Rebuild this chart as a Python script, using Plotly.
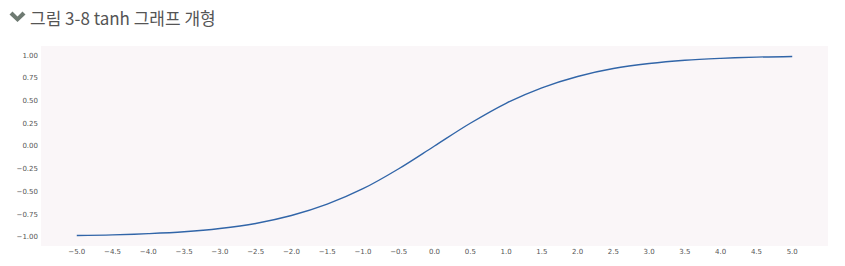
import plotly.graph_objects as go

# values (tanh-shaped curve)
x_vals = [-5.0, -4.5, -4.0, -3.5, -3.0, -2.5, -2.0, -1.5, -1.0, -0.5,
          0.0, 0.5, 1.0, 1.5, 2.0, 2.5, 3.0, 3.5, 4.0, 4.5, 5.0]
y_vals = [-0.985, -0.978, -0.964, -0.943, -0.907, -0.852, -0.765, -0.640, -0.470, -0.250,
          0.0, 0.250, 0.470, 0.640, 0.765, 0.852, 0.907, 0.943, 0.964, 0.978, 0.985]
x_ticks = [-5.0, -4.5, -4.0, -3.5, -3.0, -2.5, -2.0, -1.5, -1.0, -0.5, 0.0, 0.5, 1.0, 1.5, 2.0, 2.5, 3.0, 3.5, 4.0, 4.5, 5.0]
x_tick_text = ["\u22125.0", "\u22124.5", "\u22124.0", "\u22123.5", "\u22123.0", "\u22122.5", "\u22122.0", "\u22121.5", "\u22121.0", "\u22120.5",
               "0.0", "0.5", "1.0", "1.5", "2.0", "2.5", "3.0", "3.5", "4.0", "4.5", "5.0"]
y_ticks = [-1.0, -0.75, -0.5, -0.25, 0.0, 0.25, 0.5, 0.75, 1.0]
y_tick_text = ["\u22121.00", "\u22120.75", "\u22120.50", "\u22120.25", "0.00", "0.25", "0.50", "0.75", "1.00"]
title_text = "그림 3-8 tanh 그래프 개형"

W, H = 845, 266
L, R, T, B = 41, 17, 46, 20
pw, ph = W - L - R, H - T - B

def px(xp):
    return (xp - L) / pw

def py(yp):
    return 1 - (yp - T) / ph

fig = go.Figure()
fig.add_trace(go.Scatter(x=x_vals, y=y_vals, mode="lines",
                         line=dict(color="#3165a8", width=1.4, shape="spline", smoothing=1.0),
                         hoverinfo="skip", showlegend=False))

fig.update_layout(
    width=W, height=H,
    margin=dict(l=L, r=R, t=T, b=B),
    paper_bgcolor="white",
    plot_bgcolor="#faf6f8",
    font=dict(family="DejaVu Sans", color="#555"),
    xaxis=dict(range=[-5.5, 5.5], tickvals=x_ticks, ticktext=x_tick_text,
               showgrid=False, zeroline=False, showline=False, ticks="",
               automargin=False,
               tickfont=dict(size=7, color="#555"), ticklabelstandoff=0),
    yaxis=dict(range=[-1.1, 1.1], tickvals=y_ticks, ticktext=y_tick_text,
               showgrid=False, zeroline=False, showline=False, ticks="",
               automargin=False,
               tickfont=dict(size=7, color="#555"), ticklabelstandoff=2),
    showlegend=False,
)

fig.add_annotation(text=title_text, xref="paper", yref="paper",
                   x=px(28), y=py(18), xanchor="left", yanchor="middle",
                   showarrow=False,
                   font=dict(family="Noto Sans CJK KR", size=17, color="#555"))

# chevron icon
fig.add_shape(type="path", xref="paper", yref="paper",
              path=(f"M {px(9.5)},{py(14.5)} L {px(12.5)},{py(11.5)} L {px(17.5)},{py(16.5)} "
                    f"L {px(22.5)},{py(11.5)} L {px(25.5)},{py(14.5)} L {px(17.5)},{py(22)} Z"),
              fillcolor="#6e7a72", line=dict(width=0))

fig.write_html("out.html")
